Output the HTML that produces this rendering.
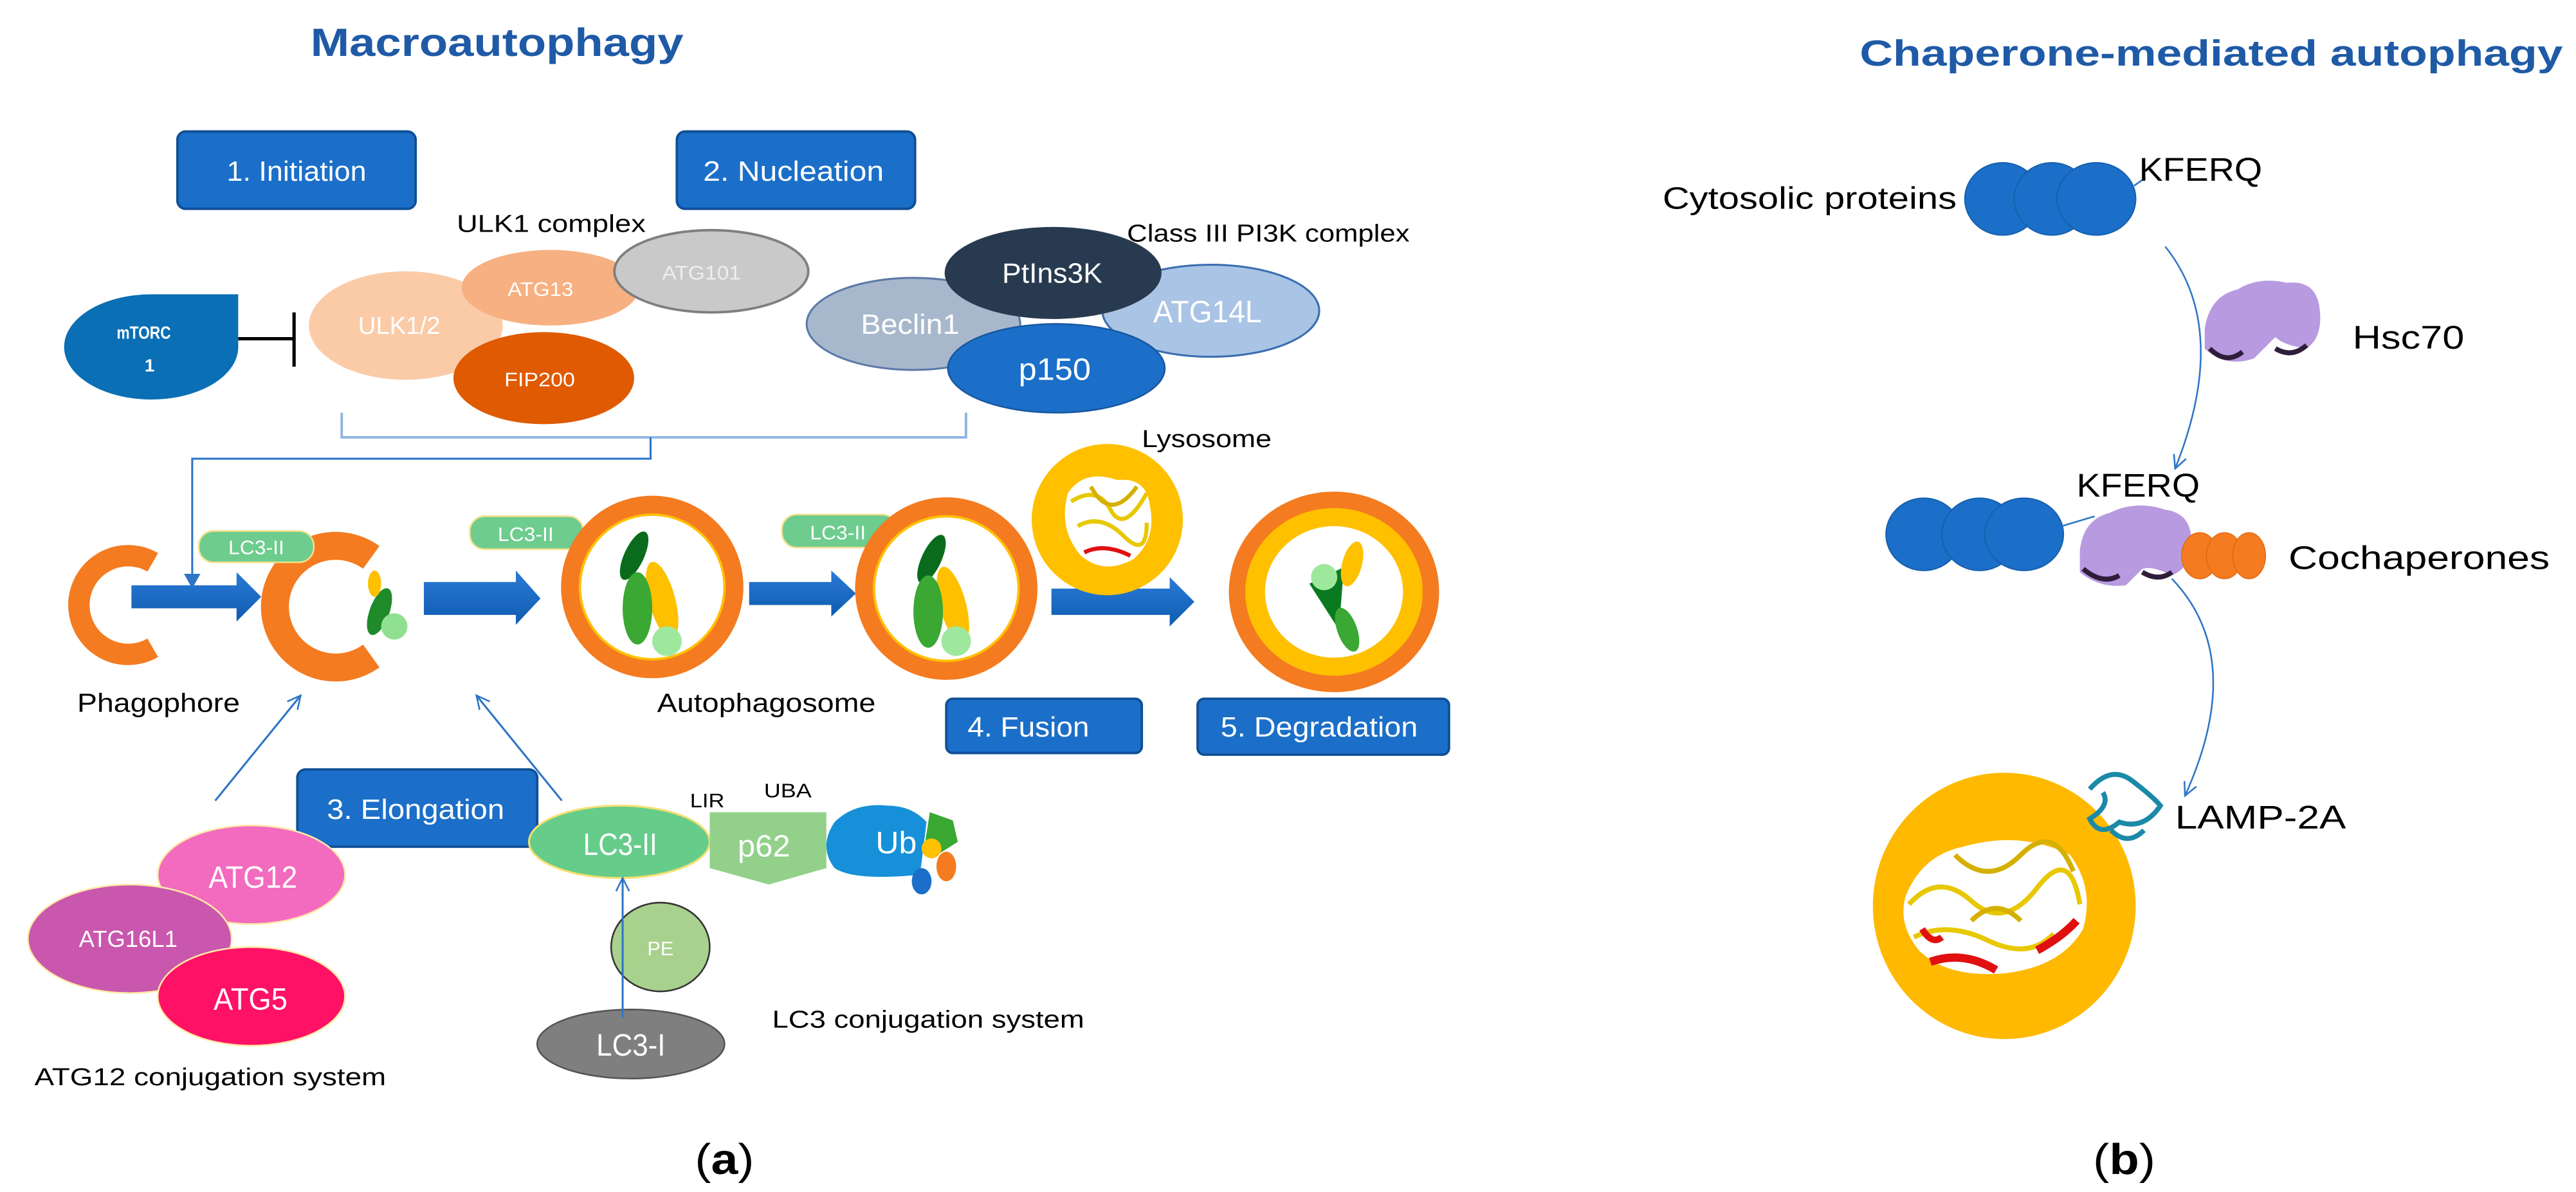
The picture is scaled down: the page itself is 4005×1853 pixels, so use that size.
<!DOCTYPE html>
<html><head><meta charset="utf-8"><style>
html,body{margin:0;padding:0;background:#fff;width:4005px;height:1853px;overflow:hidden}
svg{display:block}
text{font-family:"Liberation Sans",sans-serif}
</style></head><body>
<svg width="4005" height="1853" viewBox="0 0 1568 725" preserveAspectRatio="none" xmlns="http://www.w3.org/2000/svg">
<defs>
<marker id="ah" markerWidth="10" markerHeight="10" refX="9" refY="5" orient="auto" markerUnits="userSpaceOnUse"><path d="M1,1 L9,5 L1,9" fill="none" stroke="#2e75c6" stroke-width="1"/></marker>
<marker id="ah2" markerWidth="10" markerHeight="10" refX="8" refY="5" orient="auto" markerUnits="userSpaceOnUse"><path d="M0,0 L9,5 L0,10 z" fill="#2e75c6"/></marker>
<linearGradient id="ag" x1="0" y1="0" x2="0" y2="1"><stop offset="0" stop-color="#2a7ad6"/><stop offset="1" stop-color="#0f5cb0"/></linearGradient>
</defs>

<!-- Titles -->
<text x="189" y="34" font-size="24" font-weight="bold" fill="#1f5aa6" textLength="227" lengthAdjust="spacingAndGlyphs">Macroautophagy</text>
<text x="1132" y="40" font-size="22" font-weight="bold" fill="#1f5aa6" textLength="428" lengthAdjust="spacingAndGlyphs">Chaperone-mediated autophagy</text>

<!-- Stage boxes -->
<g stroke="#0f4f96" stroke-width="1.5" fill="#1b6fc8">
<rect x="108" y="80" width="145" height="47" rx="5"/>
<rect x="412" y="80" width="145" height="47" rx="5"/>
<rect x="576" y="425" width="119" height="33" rx="4"/>
<rect x="729" y="425" width="153" height="34" rx="4"/>
<rect x="181" y="468" width="146" height="47" rx="5"/>
</g>
<g fill="#fff" font-size="17">
<text x="138" y="110" textLength="85" lengthAdjust="spacingAndGlyphs">1. Initiation</text>
<text x="428" y="110" textLength="110" lengthAdjust="spacingAndGlyphs">2. Nucleation</text>
<text x="589" y="448" textLength="74" lengthAdjust="spacingAndGlyphs">4. Fusion</text>
<text x="743" y="448" textLength="120" lengthAdjust="spacingAndGlyphs">5. Degradation</text>
<text x="199" y="498" textLength="108" lengthAdjust="spacingAndGlyphs">3. Elongation</text>
</g>

<!-- ULK1 complex -->
<text x="278" y="141" font-size="15" textLength="115" lengthAdjust="spacingAndGlyphs">ULK1 complex</text>
<ellipse cx="247" cy="198" rx="59" ry="33" fill="#fbcba8"/>
<ellipse cx="335" cy="175" rx="54" ry="23" fill="#f7b081"/>
<ellipse cx="433" cy="165" rx="59" ry="25" fill="#c9c9c9" stroke="#7f7f7f" stroke-width="1.5"/>
<ellipse cx="331" cy="230" rx="55" ry="28" fill="#df5a00"/>
<g fill="#fff" font-size="12">
<text x="218" y="203" font-size="15" textLength="50" lengthAdjust="spacingAndGlyphs">ULK1/2</text>
<text x="309" y="180" textLength="40" lengthAdjust="spacingAndGlyphs">ATG13</text>
<text x="403" y="170" fill="#eee" textLength="48" lengthAdjust="spacingAndGlyphs">ATG101</text>
<text x="307" y="235" textLength="43" lengthAdjust="spacingAndGlyphs">FIP200</text>
</g>
<!-- mTORC1 -->
<path d="M145,179 L145,210 A53,32 0 1 1 92,179 Z" fill="#0a6fb5"/>
<text x="71" y="206" font-size="11" font-weight="bold" fill="#fff" textLength="33" lengthAdjust="spacingAndGlyphs">mTORC</text>
<text x="88" y="226" font-size="11" font-weight="bold" fill="#fff">1</text>
<line x1="145" y1="206" x2="179" y2="206" stroke="#000" stroke-width="2"/>
<line x1="179" y1="190" x2="179" y2="223" stroke="#000" stroke-width="2"/>

<!-- PI3K complex -->
<text x="686" y="147" font-size="15" textLength="172" lengthAdjust="spacingAndGlyphs">Class III PI3K complex</text>
<ellipse cx="737" cy="189" rx="66" ry="28" fill="#a9c4e4" stroke="#3a6db0" stroke-width="1.2"/>
<ellipse cx="556" cy="197" rx="65" ry="28" fill="#a8b8cc" stroke="#5a7aa8" stroke-width="1.2"/>
<ellipse cx="641" cy="166" rx="66" ry="28" fill="#283a4f"/>
<ellipse cx="643" cy="224" rx="66" ry="27" fill="#1b6fc8" stroke="#1858a0" stroke-width="1"/>
<g fill="#fff">
<text x="524" y="203" font-size="17" textLength="60" lengthAdjust="spacingAndGlyphs">Beclin1</text>
<text x="610" y="172" font-size="17" textLength="61" lengthAdjust="spacingAndGlyphs">PtIns3K</text>
<text x="702" y="196" font-size="19" textLength="66" lengthAdjust="spacingAndGlyphs">ATG14L</text>
<text x="620" y="231" font-size="19" textLength="44" lengthAdjust="spacingAndGlyphs">p150</text>
</g>

<!-- bracket & connector -->
<path d="M208,251 V266 H588 V251" fill="none" stroke="#8db4e2" stroke-width="1.5"/>
<path d="M396,266 V279 H117 V357" fill="none" stroke="#2e75c6" stroke-width="1.2" marker-end="url(#ah2)"/>

<!-- Phagophore -->
<path d="M93,342 A30,30 0 1 0 93,394" fill="none" stroke="#f47b20" stroke-width="13"/>
<!-- arrows -->
<g fill="url(#ag)">
<polygon points="80,356 144,356 144,348 159,363 144,378 144,370 80,370"/>
<polygon points="258,354 314,354 314,347 329,364 314,380 314,374 258,374"/>
<polygon points="456,354 506,354 506,347 521,361 506,375 506,368 456,368"/>
<polygon points="640,358 712,358 712,351 727,366 712,381 712,374 640,374"/>
</g>
<!-- C2 -->
<path d="M226,339 A37,37 0 1 0 226,399" fill="none" stroke="#f47b20" stroke-width="17"/>
<ellipse cx="231" cy="372" rx="6" ry="15" fill="#1e8a2a" transform="rotate(20 231 372)"/>
<ellipse cx="228" cy="355" rx="4" ry="8" fill="#ffc000"/>
<circle cx="240" cy="381" r="8" fill="#8fe08f"/>
<!-- LC3 pills -->
<g fill="#6dcc8e" stroke="#f0e08a" stroke-width="1">
<rect x="121" y="323" width="70" height="19" rx="9"/>
<rect x="286" y="314" width="69" height="20" rx="9"/>
<rect x="476" y="313" width="70" height="20" rx="9"/>
</g>
<g fill="#fff" font-size="12">
<text x="139" y="337" textLength="34" lengthAdjust="spacingAndGlyphs">LC3-II</text>
<text x="303" y="329" textLength="34" lengthAdjust="spacingAndGlyphs">LC3-II</text>
<text x="493" y="328" textLength="34" lengthAdjust="spacingAndGlyphs">LC3-II</text>
</g>
<!-- Autophagosomes -->
<ellipse cx="397" cy="357" rx="50" ry="50" fill="#fff" stroke="#f47b20" stroke-width="11"/>
<ellipse cx="397" cy="357" rx="44" ry="44" fill="none" stroke="#ffc000" stroke-width="1.5"/>
<ellipse cx="386" cy="338" rx="6" ry="16" fill="#0a6b1c" transform="rotate(25 386 338)"/>
<ellipse cx="403" cy="365" rx="8" ry="24" fill="#ffc000" transform="rotate(-15 403 365)"/>
<ellipse cx="388" cy="370" rx="9" ry="22" fill="#3aa832"/>
<circle cx="406" cy="390" r="9" fill="#9ee89e"/>
<ellipse cx="576" cy="358" rx="50" ry="50" fill="#fff" stroke="#f47b20" stroke-width="11"/>
<ellipse cx="576" cy="358" rx="44" ry="44" fill="none" stroke="#ffc000" stroke-width="1.5"/>
<ellipse cx="567" cy="340" rx="6" ry="16" fill="#0a6b1c" transform="rotate(25 567 340)"/>
<ellipse cx="580" cy="368" rx="8" ry="24" fill="#ffc000" transform="rotate(-15 580 368)"/>
<ellipse cx="565" cy="372" rx="9" ry="22" fill="#3aa832"/>
<circle cx="582" cy="390" r="9" fill="#9ee89e"/>
<!-- Lysosome small -->
<text x="695" y="272" font-size="15" textLength="79" lengthAdjust="spacingAndGlyphs">Lysosome</text>
<circle cx="674" cy="316" r="46" fill="#ffc000"/>
<path d="M650,300 Q660,285 680,292 Q698,290 700,308 Q704,328 690,340 Q672,350 658,338 Q644,322 650,300Z" fill="#fff"/>
<g fill="none" stroke-width="2.5">
<path d="M652,305 Q668,295 676,310 T698,300" stroke="#e8c800"/>
<path d="M656,320 Q670,312 684,326 T698,318" stroke="#e8c800"/>
<path d="M660,336 Q672,330 688,338" stroke="#e01010"/>
<path d="M664,296 Q676,318 692,296" stroke="#d4b000"/>
</g>
<!-- Degradation circle -->
<ellipse cx="812" cy="360" rx="59" ry="56" fill="#ffc000" stroke="#f47b20" stroke-width="10"/>
<ellipse cx="812" cy="360" rx="42" ry="40" fill="#fff"/>
<polygon points="797,355 818,345 815,383" fill="#0a7a20"/>
<ellipse cx="823" cy="343" rx="6" ry="14" fill="#ffc000" transform="rotate(15 823 343)"/>
<ellipse cx="820" cy="383" rx="6" ry="14" fill="#3aa832" transform="rotate(-20 820 383)"/>
<circle cx="806" cy="351" r="8" fill="#9ee89e"/>

<!-- labels -->
<text x="47" y="433" font-size="16" textLength="99" lengthAdjust="spacingAndGlyphs">Phagophore</text>
<text x="400" y="433" font-size="16" textLength="133" lengthAdjust="spacingAndGlyphs">Autophagosome</text>

<!-- elongation arrows -->
<line x1="131" y1="487" x2="183" y2="423" stroke="#2e75c6" stroke-width="1.2" marker-end="url(#ah)"/>
<line x1="342" y1="487" x2="290" y2="423" stroke="#2e75c6" stroke-width="1.2" marker-end="url(#ah)"/>

<!-- ATG12 system -->
<ellipse cx="153" cy="532" rx="57" ry="30" fill="#f26bbf" stroke="#ffe9a8" stroke-width="1"/>
<ellipse cx="79" cy="571" rx="62" ry="33" fill="#c957ad" stroke="#ffe9a8" stroke-width="1"/>
<ellipse cx="153" cy="606" rx="57" ry="30" fill="#ff1166" stroke="#ffe9a8" stroke-width="1"/>
<g fill="#fff">
<text x="127" y="540" font-size="19" textLength="54" lengthAdjust="spacingAndGlyphs">ATG12</text>
<text x="48" y="576" font-size="14" textLength="60" lengthAdjust="spacingAndGlyphs">ATG16L1</text>
<text x="130" y="614" font-size="19" textLength="45" lengthAdjust="spacingAndGlyphs">ATG5</text>
</g>
<text x="21" y="660" font-size="15" textLength="214" lengthAdjust="spacingAndGlyphs">ATG12 conjugation system</text>

<!-- LC3 system -->
<ellipse cx="377" cy="512" rx="55" ry="22" fill="#66cc8a" stroke="#f5e070" stroke-width="1.2"/>
<polygon points="432,494 503,494 503,528 468,538 432,528" fill="#93d18b"/>
<path d="M540,490 Q520,488 508,500 Q498,515 508,528 Q520,536 560,532 L564,500 Q555,490 540,490Z" fill="#1690d8"/>
<polygon points="566,494 580,499 583,512 572,519 563,513" fill="#3aa832"/>
<circle cx="567" cy="516" r="6" fill="#ffc000"/>
<ellipse cx="576" cy="527" rx="6" ry="9" fill="#f47b20"/>
<ellipse cx="561" cy="536" rx="6" ry="8" fill="#1b6fc8"/>
<g fill="#fff">
<text x="355" y="520" font-size="19" textLength="45" lengthAdjust="spacingAndGlyphs">LC3-II</text>
<text x="449" y="521" font-size="19" textLength="32" lengthAdjust="spacingAndGlyphs">p62</text>
<text x="533" y="519" font-size="19" textLength="25" lengthAdjust="spacingAndGlyphs">Ub</text>
</g>
<text x="420" y="491" font-size="12" textLength="21" lengthAdjust="spacingAndGlyphs">LIR</text>
<text x="465" y="485" font-size="12" textLength="29" lengthAdjust="spacingAndGlyphs">UBA</text>
<ellipse cx="402" cy="576" rx="30" ry="27" fill="#a9d18e" stroke="#333" stroke-width="1"/>
<text x="394" y="581" font-size="12" fill="#fff">PE</text>
<ellipse cx="384" cy="635" rx="57" ry="21" fill="#7f7f7f" stroke="#555" stroke-width="1"/>
<text x="363" y="642" font-size="19" fill="#fff" textLength="42" lengthAdjust="spacingAndGlyphs">LC3-I</text>
<line x1="379" y1="619" x2="379" y2="534" stroke="#2e75c6" stroke-width="1.2" marker-end="url(#ah)"/>
<text x="470" y="625" font-size="15" textLength="190" lengthAdjust="spacingAndGlyphs">LC3 conjugation system</text>

<text x="423" y="714" font-size="26" font-family="Liberation Serif, serif" textLength="36" lengthAdjust="spacingAndGlyphs">(<tspan font-weight="bold">a</tspan>)</text>

<!-- CMA panel -->
<text x="1012" y="127" font-size="19" textLength="179" lengthAdjust="spacingAndGlyphs">Cytosolic proteins</text>
<g fill="#1b6fc8" stroke="#1660ad" stroke-width="0.8">
<ellipse cx="1219" cy="121" rx="23" ry="22"/><ellipse cx="1249" cy="121" rx="23" ry="22"/><ellipse cx="1276" cy="121" rx="24" ry="22"/>
</g>
<line x1="1299" y1="113" x2="1306" y2="108" stroke="#2e75c6" stroke-width="1"/>
<text x="1302" y="110" font-size="20" textLength="75" lengthAdjust="spacingAndGlyphs">KFERQ</text>
<path d="M1318,150 Q1358,200 1324,285" fill="none" stroke="#2e75c6" stroke-width="1" marker-end="url(#ah)"/>
<g>
<path d="M1342,200 Q1345,180 1362,176 Q1375,168 1392,172 Q1410,170 1412,188 Q1414,205 1404,212 Q1390,210 1385,205 L1372,218 Q1355,224 1342,212 Z" fill="#b79ae0"/>
<path d="M1345,212 Q1355,222 1365,214 M1385,212 Q1395,218 1404,210" stroke="#2e1e3a" stroke-width="3" fill="none"/>
</g>
<text x="1432" y="212" font-size="20" textLength="68" lengthAdjust="spacingAndGlyphs">Hsc70</text>
<text x="1264" y="302" font-size="20" textLength="75" lengthAdjust="spacingAndGlyphs">KFERQ</text>
<g fill="#1b6fc8" stroke="#1660ad" stroke-width="0.8">
<ellipse cx="1171" cy="325" rx="23" ry="22"/><ellipse cx="1205" cy="325" rx="23" ry="22"/><ellipse cx="1232" cy="325" rx="24" ry="22"/>
</g>
<line x1="1255" y1="320" x2="1275" y2="314" stroke="#2e75c6" stroke-width="1"/>
<g>
<path d="M1266,335 Q1268,316 1284,312 Q1300,304 1318,310 Q1334,312 1334,330 Q1334,345 1322,350 Q1310,344 1304,346 L1294,356 Q1278,358 1266,348 Z" fill="#b79ae0"/>
<path d="M1268,346 Q1280,356 1290,350 M1304,348 Q1314,354 1322,348" stroke="#2e1e3a" stroke-width="3" fill="none"/>
</g>
<g fill="#f47b20" stroke="#e06a10" stroke-width="0.6">
<ellipse cx="1339" cy="338" rx="11" ry="14"/><ellipse cx="1354" cy="338" rx="11" ry="14"/><ellipse cx="1369" cy="338" rx="10" ry="14"/>
</g>
<text x="1393" y="346" font-size="20" textLength="159" lengthAdjust="spacingAndGlyphs">Cochaperones</text>
<path d="M1322,352 Q1368,400 1330,484" fill="none" stroke="#2e75c6" stroke-width="1" marker-end="url(#ah)"/>
<!-- big lysosome -->
<ellipse cx="1220" cy="551" rx="80" ry="81" fill="#ffb900"/>
<path d="M1160,545 Q1170,520 1195,515 Q1230,505 1260,520 Q1275,540 1268,565 Q1255,588 1220,592 Q1185,595 1168,578 Q1155,562 1160,545Z" fill="#fff"/>
<g fill="none" stroke-width="3">
<path d="M1162,550 Q1180,530 1200,548 T1240,540 T1266,550" stroke="#e8c800"/>
<path d="M1190,520 Q1210,540 1230,520 T1262,530" stroke="#d4b000"/>
<path d="M1165,570 Q1185,560 1210,572 T1250,568" stroke="#e8c800"/>
<path d="M1175,585 Q1195,578 1215,590" stroke="#e01010" stroke-width="5"/>
<path d="M1240,578 Q1255,570 1264,560" stroke="#e01010" stroke-width="5"/>
<path d="M1170,565 Q1176,575 1182,570" stroke="#e01010" stroke-width="4"/>
<path d="M1200,560 Q1215,545 1230,560" stroke="#d4b000"/>
</g>
<g fill="none" stroke="#1a8aa8" stroke-width="3">
<path d="M1272,480 Q1285,465 1298,475 T1315,490 Q1305,505 1290,500 Q1278,510 1272,498 Q1285,490 1280,482"/>
<path d="M1285,505 Q1295,515 1305,505"/>
</g>
<text x="1324" y="504" font-size="20" textLength="104" lengthAdjust="spacingAndGlyphs">LAMP-2A</text>
<text x="1274" y="714" font-size="26" font-family="Liberation Serif, serif" textLength="38" lengthAdjust="spacingAndGlyphs">(<tspan font-weight="bold">b</tspan>)</text>
</svg>
</body></html>
